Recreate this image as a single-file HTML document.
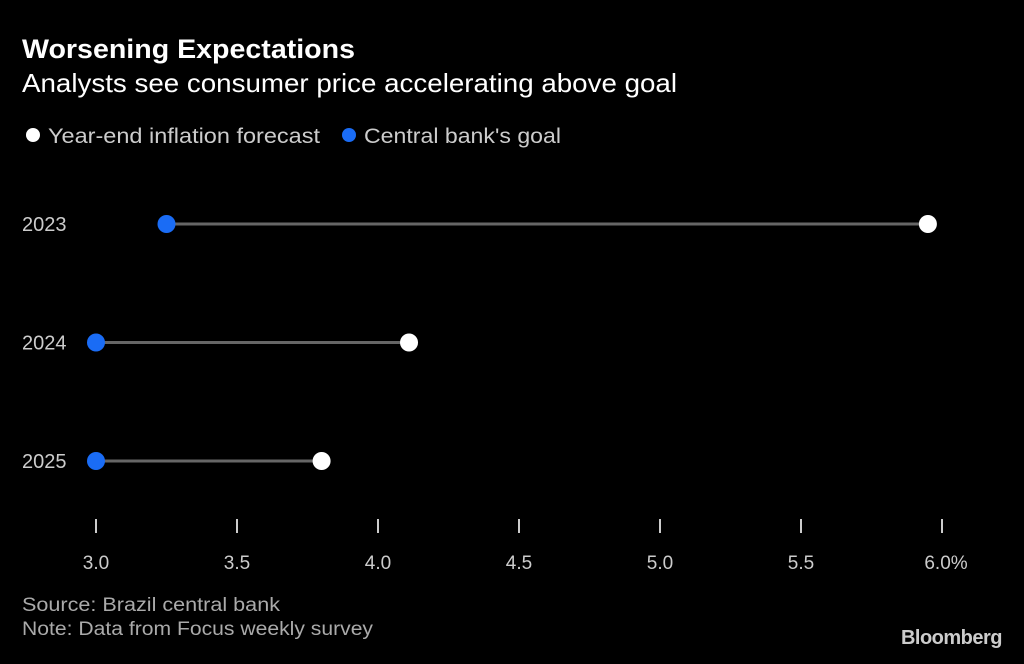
<!DOCTYPE html>
<html><head><meta charset="utf-8"><style>
body{margin:0;background:#000;width:1024px;height:659px;overflow:hidden;font-family:"Liberation Sans",sans-serif;color:#fff}
</style></head><body>
<svg width="1024" height="659" xmlns="http://www.w3.org/2000/svg">
<rect width="1024" height="659" fill="#000"/>
<text x="22" y="58" font-size="27" font-weight="bold" fill="#fff" textLength="333" lengthAdjust="spacingAndGlyphs">Worsening Expectations</text>
<text x="22" y="92" font-size="26" fill="#fff" textLength="655" lengthAdjust="spacingAndGlyphs">Analysts see consumer price accelerating above goal</text>
<g>
<circle cx="33" cy="135" r="7" fill="#fff"/>
<text x="48" y="143" font-size="21" fill="#ccc" textLength="272" lengthAdjust="spacingAndGlyphs">Year-end inflation forecast</text>
<circle cx="349" cy="135" r="7" fill="#1a6cf5"/>
<text x="364" y="143" font-size="21" fill="#ccc" textLength="197" lengthAdjust="spacingAndGlyphs">Central bank's goal</text>
</g>
<g id="plot"></g>
<text x="22" y="611" font-size="19" fill="#aaa" textLength="258" lengthAdjust="spacingAndGlyphs">Source: Brazil central bank</text>
<text x="22" y="635" font-size="19" fill="#aaa" textLength="351" lengthAdjust="spacingAndGlyphs">Note: Data from Focus weekly survey</text>
<text x="1002" y="644" font-size="20" font-weight="bold" fill="#ccc" text-anchor="end" letter-spacing="-0.5">Bloomberg</text>
</svg>
<script>
const years=["2023","2024","2025"];
const goal=[3.25,3.0,3.0];
const forecast=[5.95,4.11,3.80];
const ticks=[3.0,3.5,4.0,4.5,5.0,5.5,6.0];
const tickLabels=["3.0","3.5","4.0","4.5","5.0","5.5","6.0%"];
const NS="http://www.w3.org/2000/svg";
const g=document.getElementById('plot');
function xs(v){return 96+(v-3)*282;}
function ys(i){return 224+i*118.5;}
function mk(t,a){const e=document.createElementNS(NS,t);for(const k in a)e.setAttribute(k,a[k]);g.appendChild(e);return e;}
ticks.forEach((t,i)=>{
 const l=mk('line',{x1:xs(t),x2:xs(t),y1:519,y2:533,stroke:'#ccc','stroke-width':2});
 
 
 const tx=mk('text',{x:xs(t)+(i==6?4:0),y:569,'font-size':19,fill:'#ccc','text-anchor':'middle'});
 tx.textContent=tickLabels[i];
 
 
});
years.forEach((y,i)=>{
 const yy=ys(i);
 const lb=mk('text',{x:22,y:yy+7,'font-size':20,fill:'#ccc'});
 lb.textContent=y;
 
 
 const ln=mk('line',{x1:xs(goal[i]),x2:xs(forecast[i]),y1:yy,y2:yy,stroke:'#666','stroke-width':3});
 
 
 const c1=mk('circle',{cx:xs(goal[i]),cy:yy,r:9,fill:'#1a6cf5'});
 
 
 const c2=mk('circle',{cx:xs(forecast[i]),cy:yy,r:9,fill:'#fff'});
 
 
});
</script>
</body></html>
